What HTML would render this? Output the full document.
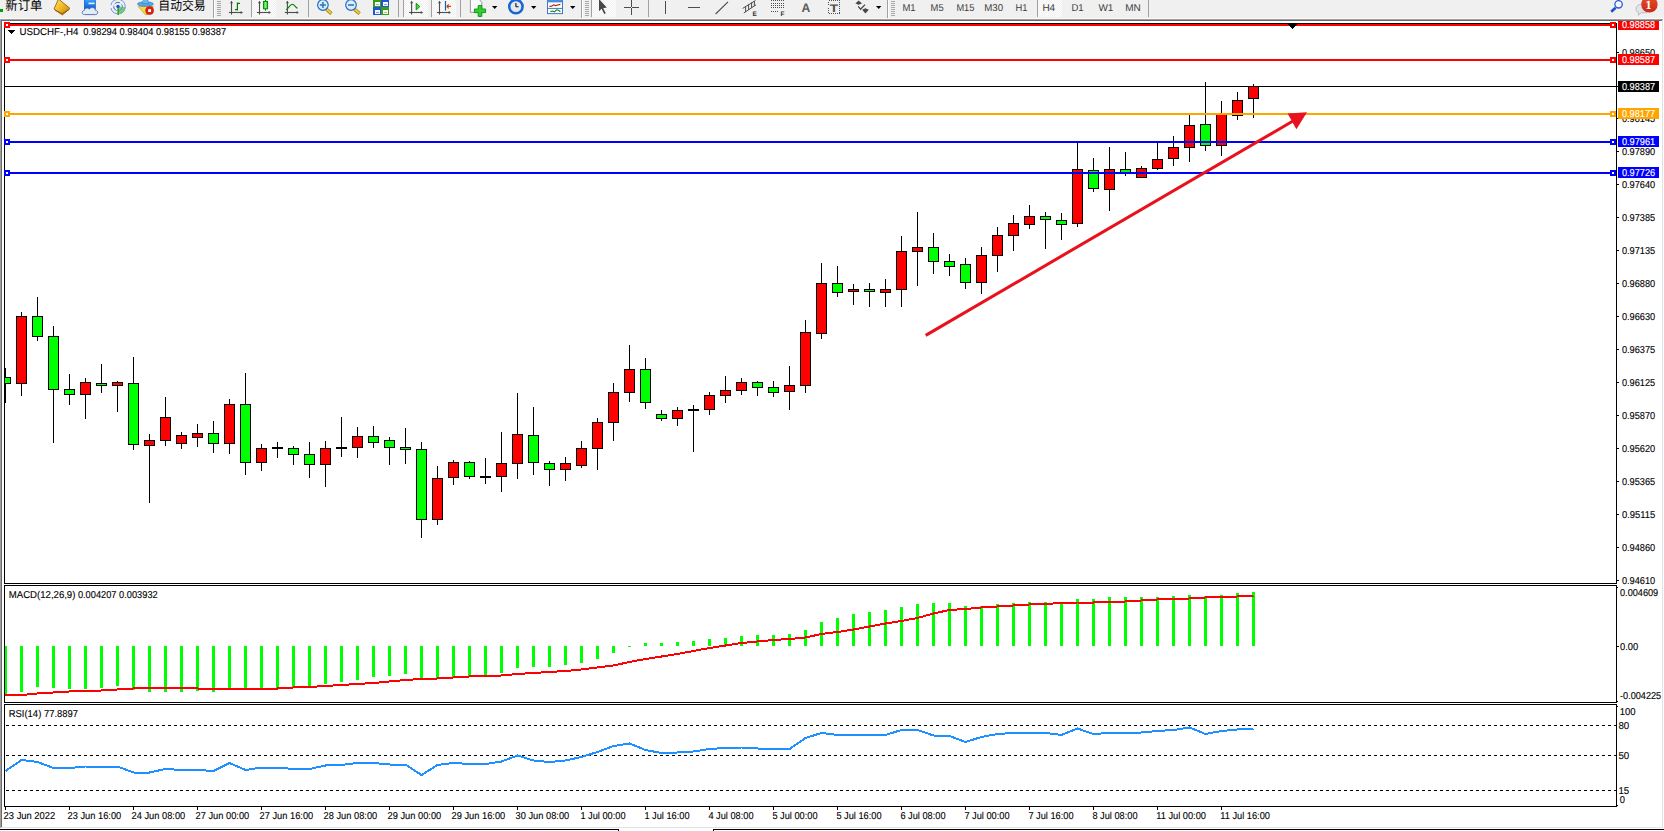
<!DOCTYPE html>
<html lang="zh"><head><meta charset="utf-8"><title>USDCHF-,H4</title>
<style>
html,body{margin:0;padding:0;background:#f0f0f0;}
body{width:1664px;height:831px;overflow:hidden;position:relative;font-family:"Liberation Sans", "Noto Sans CJK SC", sans-serif;}
svg{position:absolute;left:0;top:0;display:block;}
text{font-family:"Liberation Sans", "Noto Sans CJK SC", sans-serif;text-rendering:geometricPrecision;}
.t{font-size:10px;fill:#000;stroke:#000;stroke-width:0.12px;}
.w{font-size:10px;fill:#fff;stroke:#fff;stroke-width:0.12px;}
.tf{font-size:10px;fill:#3c3c3c;}
.cn{font-size:13px;fill:#000;}
</style></head><body>
<svg width="1664" height="831" viewBox="0 0 1664 831">
<g shape-rendering="crispEdges">
<rect x="0" y="0" width="1664" height="831" fill="#f0f0f0"/>
<rect x="0" y="18" width="1664" height="1" fill="#fbfbfb"/>
<rect x="0" y="19" width="1663" height="1" fill="#a0a0a0"/>
<rect x="1" y="20" width="1662" height="1" fill="#696969"/>
<rect x="2" y="21" width="1660" height="806" fill="#ffffff"/>
<rect x="0" y="19" width="1" height="809" fill="#a0a0a0"/>
<rect x="1" y="20" width="1" height="807" fill="#696969"/>
<rect x="1662" y="20" width="1" height="808" fill="#e3e3e3"/>
<rect x="1663" y="19" width="1" height="810" fill="#ffffff"/>
<rect x="1" y="827" width="1662" height="1" fill="#e3e3e3"/>
<rect x="0" y="828" width="1664" height="1" fill="#ffffff"/>
<rect x="0" y="829" width="619" height="1" fill="#000"/>
<rect x="713" y="829" width="951" height="1" fill="#000"/>
<rect x="618" y="829" width="1" height="2" fill="#000"/>
<rect x="713" y="829" width="1" height="2" fill="#000"/>
<rect x="0" y="830" width="618" height="1" fill="#fff"/>
<rect x="714" y="830" width="950" height="1" fill="#fff"/>
<rect x="619" y="829" width="94" height="2" fill="#fff"/>
<rect x="4" y="23" width="1" height="561" fill="#000"/>
<rect x="4" y="23" width="1613" height="1" fill="#000"/>
<rect x="4" y="583" width="1613" height="1" fill="#000"/>
<rect x="1616" y="23" width="1" height="561" fill="#000"/>
<rect x="4" y="585" width="1" height="118" fill="#000"/>
<rect x="4" y="585" width="1613" height="1" fill="#000"/>
<rect x="4" y="702" width="1613" height="1" fill="#000"/>
<rect x="1616" y="585" width="1" height="118" fill="#000"/>
<rect x="4" y="704" width="1" height="103" fill="#000"/>
<rect x="4" y="704" width="1613" height="1" fill="#000"/>
<rect x="4" y="806" width="1613" height="1" fill="#000"/>
<rect x="1616" y="704" width="1" height="103" fill="#000"/>
<rect x="1617" y="52" width="2" height="1" fill="#000"/>
<rect x="1617" y="118" width="2" height="1" fill="#000"/>
<rect x="1617" y="151" width="2" height="1" fill="#000"/>
<rect x="1617" y="184" width="2" height="1" fill="#000"/>
<rect x="1617" y="217" width="2" height="1" fill="#000"/>
<rect x="1617" y="250" width="2" height="1" fill="#000"/>
<rect x="1617" y="283" width="2" height="1" fill="#000"/>
<rect x="1617" y="316" width="2" height="1" fill="#000"/>
<rect x="1617" y="349" width="2" height="1" fill="#000"/>
<rect x="1617" y="382" width="2" height="1" fill="#000"/>
<rect x="1617" y="415" width="2" height="1" fill="#000"/>
<rect x="1617" y="448" width="2" height="1" fill="#000"/>
<rect x="1617" y="481" width="2" height="1" fill="#000"/>
<rect x="1617" y="514" width="2" height="1" fill="#000"/>
<rect x="1617" y="547" width="2" height="1" fill="#000"/>
<rect x="1617" y="580" width="2" height="1" fill="#000"/>
<rect x="1617" y="587" width="1" height="1" fill="#000"/>
<rect x="1617" y="646" width="2" height="1" fill="#000"/>
<rect x="1617" y="701" width="1" height="1" fill="#000"/>
<rect x="1617" y="706" width="1" height="1" fill="#000"/>
<rect x="1617" y="805" width="1" height="1" fill="#000"/>
<rect x="5" y="807" width="1" height="3" fill="#000"/>
<rect x="69" y="807" width="1" height="3" fill="#000"/>
<rect x="133" y="807" width="1" height="3" fill="#000"/>
<rect x="197" y="807" width="1" height="3" fill="#000"/>
<rect x="261" y="807" width="1" height="3" fill="#000"/>
<rect x="325" y="807" width="1" height="3" fill="#000"/>
<rect x="389" y="807" width="1" height="3" fill="#000"/>
<rect x="453" y="807" width="1" height="3" fill="#000"/>
<rect x="517" y="807" width="1" height="3" fill="#000"/>
<rect x="581" y="807" width="1" height="3" fill="#000"/>
<rect x="645" y="807" width="1" height="3" fill="#000"/>
<rect x="709" y="807" width="1" height="3" fill="#000"/>
<rect x="773" y="807" width="1" height="3" fill="#000"/>
<rect x="837" y="807" width="1" height="3" fill="#000"/>
<rect x="901" y="807" width="1" height="3" fill="#000"/>
<rect x="965" y="807" width="1" height="3" fill="#000"/>
<rect x="1029" y="807" width="1" height="3" fill="#000"/>
<rect x="1093" y="807" width="1" height="3" fill="#000"/>
<rect x="1157" y="807" width="1" height="3" fill="#000"/>
<rect x="1221" y="807" width="1" height="3" fill="#000"/>
</g>
<text transform="translate(1621.9,56) scale(1,1)" class="t" textLength="33.3" lengthAdjust="spacingAndGlyphs">0.98650</text>
<text transform="translate(1621.9,122) scale(1,1)" class="t" textLength="33.3" lengthAdjust="spacingAndGlyphs">0.98145</text>
<text transform="translate(1621.9,155) scale(1,1)" class="t" textLength="33.3" lengthAdjust="spacingAndGlyphs">0.97890</text>
<text transform="translate(1621.9,188) scale(1,1)" class="t" textLength="33.3" lengthAdjust="spacingAndGlyphs">0.97640</text>
<text transform="translate(1621.9,221) scale(1,1)" class="t" textLength="33.3" lengthAdjust="spacingAndGlyphs">0.97385</text>
<text transform="translate(1621.9,254) scale(1,1)" class="t" textLength="33.3" lengthAdjust="spacingAndGlyphs">0.97135</text>
<text transform="translate(1621.9,287) scale(1,1)" class="t" textLength="33.3" lengthAdjust="spacingAndGlyphs">0.96880</text>
<text transform="translate(1621.9,320) scale(1,1)" class="t" textLength="33.3" lengthAdjust="spacingAndGlyphs">0.96630</text>
<text transform="translate(1621.9,353) scale(1,1)" class="t" textLength="33.3" lengthAdjust="spacingAndGlyphs">0.96375</text>
<text transform="translate(1621.9,386) scale(1,1)" class="t" textLength="33.3" lengthAdjust="spacingAndGlyphs">0.96125</text>
<text transform="translate(1621.9,419) scale(1,1)" class="t" textLength="33.3" lengthAdjust="spacingAndGlyphs">0.95870</text>
<text transform="translate(1621.9,452) scale(1,1)" class="t" textLength="33.3" lengthAdjust="spacingAndGlyphs">0.95620</text>
<text transform="translate(1621.9,485) scale(1,1)" class="t" textLength="33.3" lengthAdjust="spacingAndGlyphs">0.95365</text>
<text transform="translate(1621.9,518) scale(1,1)" class="t" textLength="33.3" lengthAdjust="spacingAndGlyphs">0.95115</text>
<text transform="translate(1621.9,551) scale(1,1)" class="t" textLength="33.3" lengthAdjust="spacingAndGlyphs">0.94860</text>
<text transform="translate(1621.9,584) scale(1,1)" class="t" textLength="33.3" lengthAdjust="spacingAndGlyphs">0.94610</text>
<text transform="translate(1620,596) scale(1,1)" class="t" textLength="38.2" lengthAdjust="spacingAndGlyphs">0.004609</text>
<text transform="translate(1620,650) scale(1,1)" class="t" textLength="18.2" lengthAdjust="spacingAndGlyphs">0.00</text>
<text transform="translate(1620,699) scale(1,1)" class="t" textLength="41.2" lengthAdjust="spacingAndGlyphs">-0.004225</text>
<text transform="translate(1619.7,715) scale(1,1)" class="t" textLength="15.8" lengthAdjust="spacingAndGlyphs">100</text>
<text transform="translate(1618.4,729) scale(1,1)" class="t" textLength="10.8" lengthAdjust="spacingAndGlyphs">80</text>
<text transform="translate(1618.4,759) scale(1,1)" class="t" textLength="10.8" lengthAdjust="spacingAndGlyphs">50</text>
<text transform="translate(1618.4,794) scale(1,1)" class="t" textLength="10.8" lengthAdjust="spacingAndGlyphs">15</text>
<text transform="translate(1619.8,803) scale(1,1)" class="t" textLength="5.2" lengthAdjust="spacingAndGlyphs">0</text>
<text transform="translate(3.6,819) scale(1,1)" class="t" textLength="51.6" lengthAdjust="spacingAndGlyphs">23 Jun 2022</text>
<text transform="translate(67.6,819) scale(1,1)" class="t" textLength="53.6" lengthAdjust="spacingAndGlyphs">23 Jun 16:00</text>
<text transform="translate(131.6,819) scale(1,1)" class="t" textLength="53.6" lengthAdjust="spacingAndGlyphs">24 Jun 08:00</text>
<text transform="translate(195.6,819) scale(1,1)" class="t" textLength="53.6" lengthAdjust="spacingAndGlyphs">27 Jun 00:00</text>
<text transform="translate(259.6,819) scale(1,1)" class="t" textLength="53.6" lengthAdjust="spacingAndGlyphs">27 Jun 16:00</text>
<text transform="translate(323.6,819) scale(1,1)" class="t" textLength="53.6" lengthAdjust="spacingAndGlyphs">28 Jun 08:00</text>
<text transform="translate(387.6,819) scale(1,1)" class="t" textLength="53.6" lengthAdjust="spacingAndGlyphs">29 Jun 00:00</text>
<text transform="translate(451.6,819) scale(1,1)" class="t" textLength="53.6" lengthAdjust="spacingAndGlyphs">29 Jun 16:00</text>
<text transform="translate(515.6,819) scale(1,1)" class="t" textLength="53.6" lengthAdjust="spacingAndGlyphs">30 Jun 08:00</text>
<text transform="translate(580.4,819) scale(1,1)" class="t" textLength="45.2" lengthAdjust="spacingAndGlyphs">1 Jul 00:00</text>
<text transform="translate(644.4,819) scale(1,1)" class="t" textLength="45.2" lengthAdjust="spacingAndGlyphs">1 Jul 16:00</text>
<text transform="translate(708.4,819) scale(1,1)" class="t" textLength="45.2" lengthAdjust="spacingAndGlyphs">4 Jul 08:00</text>
<text transform="translate(772.4,819) scale(1,1)" class="t" textLength="45.2" lengthAdjust="spacingAndGlyphs">5 Jul 00:00</text>
<text transform="translate(836.4,819) scale(1,1)" class="t" textLength="45.2" lengthAdjust="spacingAndGlyphs">5 Jul 16:00</text>
<text transform="translate(900.4,819) scale(1,1)" class="t" textLength="45.2" lengthAdjust="spacingAndGlyphs">6 Jul 08:00</text>
<text transform="translate(964.4,819) scale(1,1)" class="t" textLength="45.2" lengthAdjust="spacingAndGlyphs">7 Jul 00:00</text>
<text transform="translate(1028.4,819) scale(1,1)" class="t" textLength="45.2" lengthAdjust="spacingAndGlyphs">7 Jul 16:00</text>
<text transform="translate(1092.4,819) scale(1,1)" class="t" textLength="45.2" lengthAdjust="spacingAndGlyphs">8 Jul 08:00</text>
<text transform="translate(1156.2,819) scale(1,1)" class="t" textLength="49.8" lengthAdjust="spacingAndGlyphs">11 Jul 00:00</text>
<text transform="translate(1220.2,819) scale(1,1)" class="t" textLength="49.8" lengthAdjust="spacingAndGlyphs">11 Jul 16:00</text>
<g shape-rendering="crispEdges">
<clipPath id="cm"><rect x="5" y="24" width="1611" height="559"/></clipPath>
<g clip-path="url(#cm)">
<rect x="5" y="368" width="1" height="35" fill="#000"/>
<rect x="0" y="377" width="11" height="7" fill="#000"/>
<rect x="1" y="378" width="9" height="5" fill="#00ff00"/>
<rect x="21" y="312" width="1" height="84" fill="#000"/>
<rect x="16" y="316" width="11" height="68" fill="#000"/>
<rect x="17" y="317" width="9" height="66" fill="#ff0000"/>
<rect x="37" y="297" width="1" height="44" fill="#000"/>
<rect x="32" y="316" width="11" height="21" fill="#000"/>
<rect x="33" y="317" width="9" height="19" fill="#00ff00"/>
<rect x="53" y="326" width="1" height="117" fill="#000"/>
<rect x="48" y="336" width="11" height="54" fill="#000"/>
<rect x="49" y="337" width="9" height="52" fill="#00ff00"/>
<rect x="69" y="374" width="1" height="31" fill="#000"/>
<rect x="64" y="389" width="11" height="6" fill="#000"/>
<rect x="65" y="390" width="9" height="4" fill="#00ff00"/>
<rect x="85" y="378" width="1" height="41" fill="#000"/>
<rect x="80" y="382" width="11" height="13" fill="#000"/>
<rect x="81" y="383" width="9" height="11" fill="#ff0000"/>
<rect x="101" y="364" width="1" height="29" fill="#000"/>
<rect x="96" y="383" width="11" height="3" fill="#000"/>
<rect x="97" y="384" width="9" height="1" fill="#00ff00"/>
<rect x="117" y="381" width="1" height="31" fill="#000"/>
<rect x="112" y="382" width="11" height="4" fill="#000"/>
<rect x="113" y="383" width="9" height="2" fill="#ff0000"/>
<rect x="133" y="357" width="1" height="93" fill="#000"/>
<rect x="128" y="383" width="11" height="62" fill="#000"/>
<rect x="129" y="384" width="9" height="60" fill="#00ff00"/>
<rect x="149" y="434" width="1" height="69" fill="#000"/>
<rect x="144" y="440" width="11" height="6" fill="#000"/>
<rect x="145" y="441" width="9" height="4" fill="#ff0000"/>
<rect x="165" y="397" width="1" height="49" fill="#000"/>
<rect x="160" y="417" width="11" height="24" fill="#000"/>
<rect x="161" y="418" width="9" height="22" fill="#ff0000"/>
<rect x="181" y="432" width="1" height="17" fill="#000"/>
<rect x="176" y="435" width="11" height="9" fill="#000"/>
<rect x="177" y="436" width="9" height="7" fill="#ff0000"/>
<rect x="197" y="424" width="1" height="23" fill="#000"/>
<rect x="192" y="433" width="11" height="5" fill="#000"/>
<rect x="193" y="434" width="9" height="3" fill="#ff0000"/>
<rect x="213" y="421" width="1" height="32" fill="#000"/>
<rect x="208" y="433" width="11" height="11" fill="#000"/>
<rect x="209" y="434" width="9" height="9" fill="#00ff00"/>
<rect x="229" y="399" width="1" height="55" fill="#000"/>
<rect x="224" y="404" width="11" height="40" fill="#000"/>
<rect x="225" y="405" width="9" height="38" fill="#ff0000"/>
<rect x="245" y="373" width="1" height="102" fill="#000"/>
<rect x="240" y="404" width="11" height="59" fill="#000"/>
<rect x="241" y="405" width="9" height="57" fill="#00ff00"/>
<rect x="261" y="444" width="1" height="27" fill="#000"/>
<rect x="256" y="448" width="11" height="15" fill="#000"/>
<rect x="257" y="449" width="9" height="13" fill="#ff0000"/>
<rect x="277" y="442" width="1" height="16" fill="#000"/>
<rect x="272" y="447" width="11" height="2" fill="#000"/>
<rect x="293" y="446" width="1" height="19" fill="#000"/>
<rect x="288" y="448" width="11" height="7" fill="#000"/>
<rect x="289" y="449" width="9" height="5" fill="#00ff00"/>
<rect x="309" y="442" width="1" height="36" fill="#000"/>
<rect x="304" y="454" width="11" height="11" fill="#000"/>
<rect x="305" y="455" width="9" height="9" fill="#00ff00"/>
<rect x="325" y="441" width="1" height="46" fill="#000"/>
<rect x="320" y="448" width="11" height="17" fill="#000"/>
<rect x="321" y="449" width="9" height="15" fill="#ff0000"/>
<rect x="341" y="417" width="1" height="40" fill="#000"/>
<rect x="336" y="447" width="11" height="2" fill="#000"/>
<rect x="357" y="427" width="1" height="31" fill="#000"/>
<rect x="352" y="436" width="11" height="12" fill="#000"/>
<rect x="353" y="437" width="9" height="10" fill="#ff0000"/>
<rect x="373" y="426" width="1" height="22" fill="#000"/>
<rect x="368" y="436" width="11" height="7" fill="#000"/>
<rect x="369" y="437" width="9" height="5" fill="#00ff00"/>
<rect x="389" y="437" width="1" height="28" fill="#000"/>
<rect x="384" y="440" width="11" height="8" fill="#000"/>
<rect x="385" y="441" width="9" height="6" fill="#00ff00"/>
<rect x="405" y="428" width="1" height="36" fill="#000"/>
<rect x="400" y="447" width="11" height="3" fill="#000"/>
<rect x="401" y="448" width="9" height="1" fill="#00ff00"/>
<rect x="421" y="442" width="1" height="96" fill="#000"/>
<rect x="416" y="449" width="11" height="71" fill="#000"/>
<rect x="417" y="450" width="9" height="69" fill="#00ff00"/>
<rect x="437" y="466" width="1" height="59" fill="#000"/>
<rect x="432" y="478" width="11" height="42" fill="#000"/>
<rect x="433" y="479" width="9" height="40" fill="#ff0000"/>
<rect x="453" y="460" width="1" height="25" fill="#000"/>
<rect x="448" y="462" width="11" height="16" fill="#000"/>
<rect x="449" y="463" width="9" height="14" fill="#ff0000"/>
<rect x="469" y="461" width="1" height="18" fill="#000"/>
<rect x="464" y="462" width="11" height="15" fill="#000"/>
<rect x="465" y="463" width="9" height="13" fill="#00ff00"/>
<rect x="485" y="458" width="1" height="26" fill="#000"/>
<rect x="480" y="476" width="11" height="2" fill="#000"/>
<rect x="501" y="432" width="1" height="60" fill="#000"/>
<rect x="496" y="463" width="11" height="14" fill="#000"/>
<rect x="497" y="464" width="9" height="12" fill="#ff0000"/>
<rect x="517" y="393" width="1" height="86" fill="#000"/>
<rect x="512" y="434" width="11" height="30" fill="#000"/>
<rect x="513" y="435" width="9" height="28" fill="#ff0000"/>
<rect x="533" y="407" width="1" height="68" fill="#000"/>
<rect x="528" y="435" width="11" height="28" fill="#000"/>
<rect x="529" y="436" width="9" height="26" fill="#00ff00"/>
<rect x="549" y="461" width="1" height="25" fill="#000"/>
<rect x="544" y="463" width="11" height="7" fill="#000"/>
<rect x="545" y="464" width="9" height="5" fill="#00ff00"/>
<rect x="565" y="457" width="1" height="24" fill="#000"/>
<rect x="560" y="463" width="11" height="7" fill="#000"/>
<rect x="561" y="464" width="9" height="5" fill="#ff0000"/>
<rect x="581" y="441" width="1" height="27" fill="#000"/>
<rect x="576" y="448" width="11" height="18" fill="#000"/>
<rect x="577" y="449" width="9" height="16" fill="#ff0000"/>
<rect x="597" y="418" width="1" height="52" fill="#000"/>
<rect x="592" y="422" width="11" height="27" fill="#000"/>
<rect x="593" y="423" width="9" height="25" fill="#ff0000"/>
<rect x="613" y="383" width="1" height="58" fill="#000"/>
<rect x="608" y="392" width="11" height="31" fill="#000"/>
<rect x="609" y="393" width="9" height="29" fill="#ff0000"/>
<rect x="629" y="345" width="1" height="57" fill="#000"/>
<rect x="624" y="369" width="11" height="24" fill="#000"/>
<rect x="625" y="370" width="9" height="22" fill="#ff0000"/>
<rect x="645" y="358" width="1" height="51" fill="#000"/>
<rect x="640" y="369" width="11" height="34" fill="#000"/>
<rect x="641" y="370" width="9" height="32" fill="#00ff00"/>
<rect x="661" y="410" width="1" height="11" fill="#000"/>
<rect x="656" y="414" width="11" height="5" fill="#000"/>
<rect x="657" y="415" width="9" height="3" fill="#00ff00"/>
<rect x="677" y="407" width="1" height="19" fill="#000"/>
<rect x="672" y="410" width="11" height="9" fill="#000"/>
<rect x="673" y="411" width="9" height="7" fill="#ff0000"/>
<rect x="693" y="405" width="1" height="47" fill="#000"/>
<rect x="688" y="409" width="11" height="2" fill="#000"/>
<rect x="709" y="392" width="1" height="23" fill="#000"/>
<rect x="704" y="395" width="11" height="15" fill="#000"/>
<rect x="705" y="396" width="9" height="13" fill="#ff0000"/>
<rect x="725" y="376" width="1" height="27" fill="#000"/>
<rect x="720" y="390" width="11" height="6" fill="#000"/>
<rect x="721" y="391" width="9" height="4" fill="#ff0000"/>
<rect x="741" y="378" width="1" height="17" fill="#000"/>
<rect x="736" y="382" width="11" height="9" fill="#000"/>
<rect x="737" y="383" width="9" height="7" fill="#ff0000"/>
<rect x="757" y="381" width="1" height="15" fill="#000"/>
<rect x="752" y="382" width="11" height="6" fill="#000"/>
<rect x="753" y="383" width="9" height="4" fill="#00ff00"/>
<rect x="773" y="381" width="1" height="16" fill="#000"/>
<rect x="768" y="387" width="11" height="6" fill="#000"/>
<rect x="769" y="388" width="9" height="4" fill="#00ff00"/>
<rect x="789" y="366" width="1" height="44" fill="#000"/>
<rect x="784" y="385" width="11" height="7" fill="#000"/>
<rect x="785" y="386" width="9" height="5" fill="#ff0000"/>
<rect x="805" y="320" width="1" height="73" fill="#000"/>
<rect x="800" y="332" width="11" height="54" fill="#000"/>
<rect x="801" y="333" width="9" height="52" fill="#ff0000"/>
<rect x="821" y="263" width="1" height="76" fill="#000"/>
<rect x="816" y="283" width="11" height="51" fill="#000"/>
<rect x="817" y="284" width="9" height="49" fill="#ff0000"/>
<rect x="837" y="266" width="1" height="31" fill="#000"/>
<rect x="832" y="283" width="11" height="10" fill="#000"/>
<rect x="833" y="284" width="9" height="8" fill="#00ff00"/>
<rect x="853" y="284" width="1" height="21" fill="#000"/>
<rect x="848" y="289" width="11" height="3" fill="#000"/>
<rect x="849" y="290" width="9" height="1" fill="#ff0000"/>
<rect x="869" y="283" width="1" height="24" fill="#000"/>
<rect x="864" y="289" width="11" height="3" fill="#000"/>
<rect x="865" y="290" width="9" height="1" fill="#00ff00"/>
<rect x="885" y="279" width="1" height="28" fill="#000"/>
<rect x="880" y="289" width="11" height="4" fill="#000"/>
<rect x="881" y="290" width="9" height="2" fill="#ff0000"/>
<rect x="901" y="236" width="1" height="71" fill="#000"/>
<rect x="896" y="251" width="11" height="39" fill="#000"/>
<rect x="897" y="252" width="9" height="37" fill="#ff0000"/>
<rect x="917" y="212" width="1" height="74" fill="#000"/>
<rect x="912" y="247" width="11" height="5" fill="#000"/>
<rect x="913" y="248" width="9" height="3" fill="#ff0000"/>
<rect x="933" y="233" width="1" height="41" fill="#000"/>
<rect x="928" y="247" width="11" height="15" fill="#000"/>
<rect x="929" y="248" width="9" height="13" fill="#00ff00"/>
<rect x="949" y="254" width="1" height="22" fill="#000"/>
<rect x="944" y="261" width="11" height="6" fill="#000"/>
<rect x="945" y="262" width="9" height="4" fill="#00ff00"/>
<rect x="965" y="258" width="1" height="31" fill="#000"/>
<rect x="960" y="264" width="11" height="19" fill="#000"/>
<rect x="961" y="265" width="9" height="17" fill="#00ff00"/>
<rect x="981" y="247" width="1" height="47" fill="#000"/>
<rect x="976" y="255" width="11" height="28" fill="#000"/>
<rect x="977" y="256" width="9" height="26" fill="#ff0000"/>
<rect x="997" y="227" width="1" height="45" fill="#000"/>
<rect x="992" y="235" width="11" height="21" fill="#000"/>
<rect x="993" y="236" width="9" height="19" fill="#ff0000"/>
<rect x="1013" y="215" width="1" height="36" fill="#000"/>
<rect x="1008" y="223" width="11" height="13" fill="#000"/>
<rect x="1009" y="224" width="9" height="11" fill="#ff0000"/>
<rect x="1029" y="205" width="1" height="24" fill="#000"/>
<rect x="1024" y="216" width="11" height="9" fill="#000"/>
<rect x="1025" y="217" width="9" height="7" fill="#ff0000"/>
<rect x="1045" y="212" width="1" height="37" fill="#000"/>
<rect x="1040" y="216" width="11" height="4" fill="#000"/>
<rect x="1041" y="217" width="9" height="2" fill="#00ff00"/>
<rect x="1061" y="213" width="1" height="27" fill="#000"/>
<rect x="1056" y="220" width="11" height="5" fill="#000"/>
<rect x="1057" y="221" width="9" height="3" fill="#00ff00"/>
<rect x="1077" y="143" width="1" height="84" fill="#000"/>
<rect x="1072" y="169" width="11" height="55" fill="#000"/>
<rect x="1073" y="170" width="9" height="53" fill="#ff0000"/>
<rect x="1093" y="158" width="1" height="34" fill="#000"/>
<rect x="1088" y="170" width="11" height="19" fill="#000"/>
<rect x="1089" y="171" width="9" height="17" fill="#00ff00"/>
<rect x="1109" y="147" width="1" height="64" fill="#000"/>
<rect x="1104" y="169" width="11" height="21" fill="#000"/>
<rect x="1105" y="170" width="9" height="19" fill="#ff0000"/>
<rect x="1125" y="152" width="1" height="24" fill="#000"/>
<rect x="1120" y="169" width="11" height="4" fill="#000"/>
<rect x="1121" y="170" width="9" height="2" fill="#00ff00"/>
<rect x="1141" y="166" width="1" height="12" fill="#000"/>
<rect x="1136" y="168" width="11" height="10" fill="#000"/>
<rect x="1137" y="169" width="9" height="8" fill="#ff0000"/>
<rect x="1157" y="143" width="1" height="27" fill="#000"/>
<rect x="1152" y="159" width="11" height="10" fill="#000"/>
<rect x="1153" y="160" width="9" height="8" fill="#ff0000"/>
<rect x="1173" y="136" width="1" height="30" fill="#000"/>
<rect x="1168" y="147" width="11" height="12" fill="#000"/>
<rect x="1169" y="148" width="9" height="10" fill="#ff0000"/>
<rect x="1189" y="115" width="1" height="47" fill="#000"/>
<rect x="1184" y="125" width="11" height="23" fill="#000"/>
<rect x="1185" y="126" width="9" height="21" fill="#ff0000"/>
<rect x="1205" y="82" width="1" height="69" fill="#000"/>
<rect x="1200" y="124" width="11" height="22" fill="#000"/>
<rect x="1201" y="125" width="9" height="20" fill="#00ff00"/>
<rect x="1221" y="101" width="1" height="55" fill="#000"/>
<rect x="1216" y="114" width="11" height="32" fill="#000"/>
<rect x="1217" y="115" width="9" height="30" fill="#ff0000"/>
<rect x="1237" y="92" width="1" height="28" fill="#000"/>
<rect x="1232" y="100" width="11" height="16" fill="#000"/>
<rect x="1233" y="101" width="9" height="14" fill="#ff0000"/>
<rect x="1253" y="84" width="1" height="34" fill="#000"/>
<rect x="1248" y="86" width="11" height="13" fill="#000"/>
<rect x="1249" y="87" width="9" height="11" fill="#ff0000"/>
</g>
<clipPath id="cd"><rect x="5" y="586" width="1611" height="116"/></clipPath>
<g clip-path="url(#cd)">
<rect x="4" y="646" width="3" height="50" fill="#00ff00"/>
<rect x="20" y="646" width="3" height="46" fill="#00ff00"/>
<rect x="36" y="646" width="3" height="41" fill="#00ff00"/>
<rect x="52" y="646" width="3" height="42" fill="#00ff00"/>
<rect x="68" y="646" width="3" height="43" fill="#00ff00"/>
<rect x="84" y="646" width="3" height="43" fill="#00ff00"/>
<rect x="100" y="646" width="3" height="42" fill="#00ff00"/>
<rect x="116" y="646" width="3" height="40" fill="#00ff00"/>
<rect x="132" y="646" width="3" height="44" fill="#00ff00"/>
<rect x="148" y="646" width="3" height="46" fill="#00ff00"/>
<rect x="164" y="646" width="3" height="46" fill="#00ff00"/>
<rect x="180" y="646" width="3" height="46" fill="#00ff00"/>
<rect x="196" y="646" width="3" height="45" fill="#00ff00"/>
<rect x="212" y="646" width="3" height="46" fill="#00ff00"/>
<rect x="228" y="646" width="3" height="42" fill="#00ff00"/>
<rect x="244" y="646" width="3" height="43" fill="#00ff00"/>
<rect x="260" y="646" width="3" height="43" fill="#00ff00"/>
<rect x="276" y="646" width="3" height="42" fill="#00ff00"/>
<rect x="292" y="646" width="3" height="41" fill="#00ff00"/>
<rect x="308" y="646" width="3" height="41" fill="#00ff00"/>
<rect x="324" y="646" width="3" height="38" fill="#00ff00"/>
<rect x="340" y="646" width="3" height="36" fill="#00ff00"/>
<rect x="356" y="646" width="3" height="34" fill="#00ff00"/>
<rect x="372" y="646" width="3" height="31" fill="#00ff00"/>
<rect x="388" y="646" width="3" height="30" fill="#00ff00"/>
<rect x="404" y="646" width="3" height="28" fill="#00ff00"/>
<rect x="420" y="646" width="3" height="33" fill="#00ff00"/>
<rect x="436" y="646" width="3" height="32" fill="#00ff00"/>
<rect x="452" y="646" width="3" height="31" fill="#00ff00"/>
<rect x="468" y="646" width="3" height="31" fill="#00ff00"/>
<rect x="484" y="646" width="3" height="29" fill="#00ff00"/>
<rect x="500" y="646" width="3" height="27" fill="#00ff00"/>
<rect x="516" y="646" width="3" height="22" fill="#00ff00"/>
<rect x="532" y="646" width="3" height="21" fill="#00ff00"/>
<rect x="548" y="646" width="3" height="21" fill="#00ff00"/>
<rect x="564" y="646" width="3" height="19" fill="#00ff00"/>
<rect x="580" y="646" width="3" height="17" fill="#00ff00"/>
<rect x="596" y="646" width="3" height="13" fill="#00ff00"/>
<rect x="612" y="646" width="3" height="7" fill="#00ff00"/>
<rect x="628" y="646" width="3" height="1" fill="#00ff00"/>
<rect x="644" y="643" width="3" height="3" fill="#00ff00"/>
<rect x="660" y="643" width="3" height="3" fill="#00ff00"/>
<rect x="676" y="642" width="3" height="4" fill="#00ff00"/>
<rect x="692" y="641" width="3" height="5" fill="#00ff00"/>
<rect x="708" y="639" width="3" height="7" fill="#00ff00"/>
<rect x="724" y="638" width="3" height="8" fill="#00ff00"/>
<rect x="740" y="636" width="3" height="10" fill="#00ff00"/>
<rect x="756" y="635" width="3" height="11" fill="#00ff00"/>
<rect x="772" y="635" width="3" height="11" fill="#00ff00"/>
<rect x="788" y="634" width="3" height="12" fill="#00ff00"/>
<rect x="804" y="630" width="3" height="16" fill="#00ff00"/>
<rect x="820" y="622" width="3" height="24" fill="#00ff00"/>
<rect x="836" y="618" width="3" height="28" fill="#00ff00"/>
<rect x="852" y="614" width="3" height="32" fill="#00ff00"/>
<rect x="868" y="612" width="3" height="34" fill="#00ff00"/>
<rect x="884" y="610" width="3" height="36" fill="#00ff00"/>
<rect x="900" y="607" width="3" height="39" fill="#00ff00"/>
<rect x="916" y="604" width="3" height="42" fill="#00ff00"/>
<rect x="932" y="603" width="3" height="43" fill="#00ff00"/>
<rect x="948" y="603" width="3" height="43" fill="#00ff00"/>
<rect x="964" y="606" width="3" height="40" fill="#00ff00"/>
<rect x="980" y="606" width="3" height="40" fill="#00ff00"/>
<rect x="996" y="604" width="3" height="42" fill="#00ff00"/>
<rect x="1012" y="603" width="3" height="43" fill="#00ff00"/>
<rect x="1028" y="602" width="3" height="44" fill="#00ff00"/>
<rect x="1044" y="602" width="3" height="44" fill="#00ff00"/>
<rect x="1060" y="602" width="3" height="44" fill="#00ff00"/>
<rect x="1076" y="599" width="3" height="47" fill="#00ff00"/>
<rect x="1092" y="599" width="3" height="47" fill="#00ff00"/>
<rect x="1108" y="597" width="3" height="49" fill="#00ff00"/>
<rect x="1124" y="597" width="3" height="49" fill="#00ff00"/>
<rect x="1140" y="597" width="3" height="49" fill="#00ff00"/>
<rect x="1156" y="597" width="3" height="49" fill="#00ff00"/>
<rect x="1172" y="596" width="3" height="50" fill="#00ff00"/>
<rect x="1188" y="595" width="3" height="51" fill="#00ff00"/>
<rect x="1204" y="596" width="3" height="50" fill="#00ff00"/>
<rect x="1220" y="595" width="3" height="51" fill="#00ff00"/>
<rect x="1236" y="593" width="3" height="53" fill="#00ff00"/>
<rect x="1252" y="592" width="3" height="54" fill="#00ff00"/>
</g>
</g>
<polyline points="5.5,695.5 21.5,695 37.5,693.5 53.5,692.5 69.5,691.5 85.5,691 101.5,690.5 117.5,689.5 133.5,688.5 149.5,688 165.5,688 181.5,688 197.5,688.5 213.5,688.5 229.5,688.5 245.5,688.5 261.5,688.5 277.5,688.5 293.5,687.5 309.5,687 325.5,686 341.5,685 357.5,684 373.5,683 389.5,681.5 405.5,680 421.5,679 437.5,678.5 453.5,677.5 469.5,676.5 485.5,676 501.5,675.5 517.5,674 533.5,673 549.5,672 565.5,671 581.5,669.5 597.5,667.5 613.5,665.5 629.5,662 645.5,659 661.5,656.5 677.5,654 693.5,651 709.5,648 725.5,645.5 741.5,643 757.5,641.5 773.5,640 789.5,639 805.5,637.5 821.5,634 837.5,632 853.5,629.5 869.5,626.5 885.5,623.5 901.5,621 917.5,618 933.5,613.5 949.5,610 965.5,609 981.5,607.5 997.5,606.5 1013.5,605.5 1029.5,604.5 1045.5,604 1061.5,603 1077.5,602.5 1093.5,602.5 1109.5,602 1125.5,601.5 1141.5,600.5 1157.5,599.5 1173.5,599 1189.5,598.5 1205.5,597.5 1221.5,597 1237.5,596.5 1253.5,596" fill="none" stroke="#ff0000" stroke-width="2" stroke-linejoin="round" clip-path="url(#cd)" shape-rendering="crispEdges"/>
<g shape-rendering="crispEdges">
<line x1="6" y1="725.5" x2="1616" y2="725.5" stroke="#000" stroke-width="1" stroke-dasharray="3 3"/>
<line x1="6" y1="755.5" x2="1616" y2="755.5" stroke="#000" stroke-width="1" stroke-dasharray="3 3"/>
<line x1="6" y1="790.5" x2="1616" y2="790.5" stroke="#000" stroke-width="1" stroke-dasharray="3 3"/>
</g>
<polyline points="5.5,771 21.5,760 37.5,762 53.5,768 69.5,768 85.5,766.5 101.5,766.5 117.5,766.5 133.5,772.5 149.5,772.5 165.5,769 181.5,770 197.5,770 213.5,771 229.5,763 245.5,770 261.5,767.5 277.5,767.5 293.5,769 309.5,769 325.5,765.5 341.5,765 357.5,763 373.5,763 389.5,764.5 405.5,764.5 421.5,775 437.5,765 453.5,763 469.5,764 485.5,764 501.5,761.5 517.5,755.5 533.5,760.5 549.5,762 565.5,760.5 581.5,757 597.5,752 613.5,746 629.5,743.5 645.5,750 661.5,753 677.5,752.5 693.5,751.5 709.5,749 725.5,748 741.5,747.5 757.5,748.5 773.5,749 789.5,749 805.5,738 821.5,733 837.5,735 853.5,735 869.5,735 885.5,735 901.5,730 917.5,730 933.5,735.5 949.5,736 965.5,742 981.5,737 997.5,734 1013.5,733 1029.5,733 1045.5,733 1061.5,735 1077.5,728.5 1093.5,734 1109.5,733 1125.5,733 1141.5,732.5 1157.5,731 1173.5,730 1189.5,727.5 1205.5,734 1221.5,731 1237.5,729.5 1253.5,729" fill="none" stroke="#1e90ff" stroke-width="2" stroke-linejoin="round" shape-rendering="crispEdges"/>
<g shape-rendering="crispEdges">
<rect x="5" y="24" width="1611" height="2" fill="#ff0000"/>
<rect x="4" y="22" width="6" height="6" fill="#ff0000"/>
<rect x="6" y="24" width="2" height="2" fill="#fff"/>
<rect x="1610" y="22" width="6" height="6" fill="#ff0000"/>
<rect x="1612" y="24" width="2" height="2" fill="#fff"/>
<rect x="1618" y="21" width="41" height="9" fill="#ff0000"/>
<rect x="5" y="59" width="1611" height="2" fill="#ff0000"/>
<rect x="4" y="57" width="6" height="6" fill="#ff0000"/>
<rect x="6" y="59" width="2" height="2" fill="#fff"/>
<rect x="1610" y="57" width="6" height="6" fill="#ff0000"/>
<rect x="1612" y="59" width="2" height="2" fill="#fff"/>
<rect x="1618" y="54" width="41" height="11" fill="#ff0000"/>
<rect x="5" y="86" width="1613" height="1" fill="#000"/>
<rect x="1618" y="81" width="41" height="11" fill="#000"/>
<rect x="5" y="113" width="1611" height="2" fill="#ffa500"/>
<rect x="4" y="111" width="6" height="6" fill="#ffa500"/>
<rect x="6" y="113" width="2" height="2" fill="#fff"/>
<rect x="1610" y="111" width="6" height="6" fill="#ffa500"/>
<rect x="1612" y="113" width="2" height="2" fill="#fff"/>
<rect x="1618" y="108" width="41" height="11" fill="#ffa500"/>
<rect x="5" y="141" width="1611" height="2" fill="#0000ff"/>
<rect x="4" y="139" width="6" height="6" fill="#0000ff"/>
<rect x="6" y="141" width="2" height="2" fill="#fff"/>
<rect x="1610" y="139" width="6" height="6" fill="#0000ff"/>
<rect x="1612" y="141" width="2" height="2" fill="#fff"/>
<rect x="1618" y="136" width="41" height="11" fill="#0000ff"/>
<rect x="5" y="172" width="1611" height="2" fill="#0000ff"/>
<rect x="4" y="170" width="6" height="6" fill="#0000ff"/>
<rect x="6" y="172" width="2" height="2" fill="#fff"/>
<rect x="1610" y="170" width="6" height="6" fill="#0000ff"/>
<rect x="1612" y="172" width="2" height="2" fill="#fff"/>
<rect x="1618" y="167" width="41" height="11" fill="#0000ff"/>
<rect x="1288" y="23" width="10" height="1" fill="#000"/>
<rect x="1288" y="24" width="9" height="1" fill="#000"/>
<rect x="1289" y="25" width="7" height="1" fill="#000"/>
<rect x="1290" y="26" width="5" height="1" fill="#000"/>
<rect x="1291" y="27" width="3" height="1" fill="#000"/>
<rect x="1292" y="28" width="1" height="1" fill="#000"/>
<rect x="8" y="30" width="7" height="1" fill="#000"/>
<rect x="9" y="31" width="5" height="1" fill="#000"/>
<rect x="10" y="32" width="3" height="1" fill="#000"/>
<rect x="11" y="33" width="1" height="1" fill="#000"/>
</g>
<line x1="925.7" y1="335.4" x2="1293" y2="121" stroke="#e8111d" stroke-width="3.05"/>
<polygon points="1307,112.3 1287.6,113.6 1296.4,129.3" fill="#e8111d"/>
<text transform="translate(1621.9,28) scale(1,1)" class="w" textLength="33.3" lengthAdjust="spacingAndGlyphs">0.98858</text>
<text transform="translate(1621.9,63) scale(1,1)" class="w" textLength="33.3" lengthAdjust="spacingAndGlyphs">0.98587</text>
<text transform="translate(1621.9,117) scale(1,1)" class="w" textLength="33.3" lengthAdjust="spacingAndGlyphs">0.98177</text>
<text transform="translate(1621.9,145) scale(1,1)" class="w" textLength="33.3" lengthAdjust="spacingAndGlyphs">0.97961</text>
<text transform="translate(1621.9,176) scale(1,1)" class="w" textLength="33.3" lengthAdjust="spacingAndGlyphs">0.97726</text>
<text transform="translate(1621.9,90) scale(1,1)" class="w" textLength="33.3" lengthAdjust="spacingAndGlyphs">0.98387</text>
<text transform="translate(19.6,35) scale(1,1)" class="t" textLength="58.8" lengthAdjust="spacingAndGlyphs">USDCHF-,H4</text>
<text transform="translate(83.2,35) scale(1,1)" class="t" textLength="142.9" lengthAdjust="spacingAndGlyphs">0.98294 0.98404 0.98155 0.98387</text>
<text transform="translate(8.8,598) scale(1,1)" class="t" textLength="66.6" lengthAdjust="spacingAndGlyphs">MACD(12,26,9)</text>
<text transform="translate(77.9,598) scale(1,1)" class="t" textLength="79.8" lengthAdjust="spacingAndGlyphs">0.004207 0.003932</text>
<text transform="translate(8.7,717) scale(1,1)" class="t" textLength="69.4" lengthAdjust="spacingAndGlyphs">RSI(14) 77.8897</text>
<defs>
<linearGradient id="gold" x1="0" y1="0" x2="1" y2="1"><stop offset="0" stop-color="#ffe680"/><stop offset="0.5" stop-color="#f0b820"/><stop offset="1" stop-color="#b87808"/></linearGradient>
<linearGradient id="blu" x1="0" y1="0" x2="0" y2="1"><stop offset="0" stop-color="#38a8ff"/><stop offset="1" stop-color="#0a5cd8"/></linearGradient>
<linearGradient id="redb" x1="0" y1="0" x2="0" y2="1"><stop offset="0" stop-color="#e8502c"/><stop offset="1" stop-color="#c82814"/></linearGradient>
<linearGradient id="grn" x1="0" y1="0" x2="1" y2="0"><stop offset="0" stop-color="#20c020"/><stop offset="0.5" stop-color="#70ff70"/><stop offset="1" stop-color="#20c020"/></linearGradient>
<pattern id="chk" width="2" height="2" patternUnits="userSpaceOnUse"><rect width="2" height="2" fill="#f0f0f0"/><rect width="1" height="1" fill="#fff"/><rect x="1" y="1" width="1" height="1" fill="#fff"/></pattern>
<clipPath id="tb"><rect x="0" y="0" width="1664" height="18"/></clipPath>
</defs>
<g clip-path="url(#tb)">
<g shape-rendering="crispEdges">
<rect x="252" y="0" width="24" height="17" fill="url(#chk)"/>
<rect x="404" y="0" width="24" height="17" fill="url(#chk)"/>
<rect x="432" y="0" width="24" height="17" fill="url(#chk)"/>
<rect x="592" y="0" width="24" height="17" fill="url(#chk)"/>
<rect x="1038" y="0" width="24" height="17" fill="url(#chk)"/>
<rect x="251" y="0" width="1" height="17" fill="#a0a0a0"/>
<rect x="308" y="0" width="1" height="17" fill="#a0a0a0"/>
<rect x="398" y="0" width="1" height="17" fill="#a0a0a0"/>
<rect x="403" y="0" width="1" height="17" fill="#a0a0a0"/>
<rect x="431" y="0" width="1" height="17" fill="#a0a0a0"/>
<rect x="460" y="0" width="1" height="17" fill="#a0a0a0"/>
<rect x="591" y="0" width="1" height="17" fill="#a0a0a0"/>
<rect x="648" y="0" width="1" height="17" fill="#a0a0a0"/>
<rect x="1037" y="0" width="1" height="17" fill="#a0a0a0"/>
<rect x="1148" y="0" width="1" height="17" fill="#a0a0a0"/>
<rect x="213" y="0" width="1" height="19" fill="#a0a0a0"/>
<rect x="214" y="0" width="1" height="19" fill="#ffffff"/>
<rect x="581" y="0" width="1" height="19" fill="#a0a0a0"/>
<rect x="582" y="0" width="1" height="19" fill="#ffffff"/>
<rect x="887" y="0" width="1" height="19" fill="#a0a0a0"/>
<rect x="888" y="0" width="1" height="19" fill="#ffffff"/>
<rect x="217" y="1" width="4" height="1" fill="#a8a8a8"/>
<rect x="217" y="3" width="4" height="1" fill="#a8a8a8"/>
<rect x="217" y="5" width="4" height="1" fill="#a8a8a8"/>
<rect x="217" y="7" width="4" height="1" fill="#a8a8a8"/>
<rect x="217" y="9" width="4" height="1" fill="#a8a8a8"/>
<rect x="217" y="11" width="4" height="1" fill="#a8a8a8"/>
<rect x="217" y="13" width="4" height="1" fill="#a8a8a8"/>
<rect x="217" y="15" width="4" height="1" fill="#a8a8a8"/>
<rect x="585" y="1" width="4" height="1" fill="#a8a8a8"/>
<rect x="585" y="3" width="4" height="1" fill="#a8a8a8"/>
<rect x="585" y="5" width="4" height="1" fill="#a8a8a8"/>
<rect x="585" y="7" width="4" height="1" fill="#a8a8a8"/>
<rect x="585" y="9" width="4" height="1" fill="#a8a8a8"/>
<rect x="585" y="11" width="4" height="1" fill="#a8a8a8"/>
<rect x="585" y="13" width="4" height="1" fill="#a8a8a8"/>
<rect x="585" y="15" width="4" height="1" fill="#a8a8a8"/>
<rect x="891" y="1" width="4" height="1" fill="#a8a8a8"/>
<rect x="891" y="3" width="4" height="1" fill="#a8a8a8"/>
<rect x="891" y="5" width="4" height="1" fill="#a8a8a8"/>
<rect x="891" y="7" width="4" height="1" fill="#a8a8a8"/>
<rect x="891" y="9" width="4" height="1" fill="#a8a8a8"/>
<rect x="891" y="11" width="4" height="1" fill="#a8a8a8"/>
<rect x="891" y="13" width="4" height="1" fill="#a8a8a8"/>
<rect x="891" y="15" width="4" height="1" fill="#a8a8a8"/>
<rect x="0" y="9" width="3" height="3" fill="#00a000"/>
</g>
<text x="5.3" y="10.3" class="cn" textLength="37.2" lengthAdjust="spacingAndGlyphs">新订单</text>
<text x="158.3" y="10.3" class="cn" textLength="47.4" lengthAdjust="spacingAndGlyphs">自动交易</text>
<polygon points="58.5,-1 70,8.4 62.3,15 54,9" fill="url(#gold)" stroke="#9a6408" stroke-width="0.9"/>
<path d="M55,10.3 L62.2,13.6 L69,9.6" fill="none" stroke="#7a4a04" stroke-width="0.8"/>
<rect x="84.3" y="-1" width="11" height="10" fill="url(#blu)" stroke="#0848b0" stroke-width="0.6"/>
<rect x="88.5" y="2.6" width="6" height="1.6" fill="#e8f4ff"/>
<path d="M84.5,14.6 C81.5,14.6 81.4,10.6 84.4,10.4 C84.6,7.8 88.2,7.4 89.2,9.2 C90.6,6.6 95.4,7.2 95.2,10.2 C98.4,10.2 98.6,14.6 95.4,14.6 Z" fill="#e4ecf8" stroke="#4868b0" stroke-width="0.9"/>
<g fill="none">
<circle cx="118" cy="6.6" r="7.2" stroke="#5a86dc" stroke-width="1" stroke-dasharray="9 3" opacity="0.85"/>
<circle cx="118" cy="6.6" r="4.3" stroke="#4070d8" stroke-width="1" stroke-dasharray="6 2"/>
</g>
<path d="M118,6.6 L125.4,7 A7.4,7.4 0 0 1 118,14.6 Z" fill="#58b868" opacity="0.75"/>
<rect x="117.4" y="7" width="1.4" height="8" fill="#18a018"/>
<circle cx="118" cy="6.4" r="1.7" fill="#1850d0"/>
<polygon points="138.2,6.4 153.4,6.4 148,14.6 145.2,14.6" fill="#f4d84c" stroke="#c89c10" stroke-width="0.7"/>
<ellipse cx="145.4" cy="4" rx="8" ry="2.3" fill="#58a8e8" stroke="#2c78c0" stroke-width="0.6"/>
<path d="M142.2,3.6 L143.6,-1 L147.6,-1 L148.8,3.6 Z" fill="#6cb4ec" stroke="#2c78c0" stroke-width="0.5"/>
<circle cx="149.6" cy="10.6" r="4" fill="#dc2410" stroke="#b01808" stroke-width="0.6"/>
<rect x="148.2" y="9.2" width="2.8" height="2.8" fill="#fff"/>
<g stroke="#4d4d4d" stroke-width="1.1" fill="#4d4d4d">
<line x1="231.5" y1="1.5" x2="231.5" y2="14.6"/>
<line x1="228.9" y1="12.5" x2="242.1" y2="12.5"/>
<polygon points="231.5,0.8 230,3.2 233,3.2" stroke="none"/>
<polygon points="242.9,12.5 240.7,11 240.7,14" stroke="none"/>
</g>
<path d="M237.4,2.4 V10.6 M237.4,3.3 H240 M235,9.6 H237.4" stroke="#008000" stroke-width="1.2" fill="none"/>
<g stroke="#4d4d4d" stroke-width="1.1" fill="#4d4d4d">
<line x1="259.5" y1="1.5" x2="259.5" y2="14.6"/>
<line x1="256.9" y1="12.5" x2="270.1" y2="12.5"/>
<polygon points="259.5,0.8 258,3.2 261,3.2" stroke="none"/>
<polygon points="270.9,12.5 268.7,11 268.7,14" stroke="none"/>
</g>
<line x1="265.5" y1="0" x2="265.5" y2="10.6" stroke="#008000" stroke-width="1.1"/>
<rect x="263.4" y="1.4" width="4.2" height="7.4" fill="url(#grn)" stroke="#008000" stroke-width="0.9"/>
<g stroke="#4d4d4d" stroke-width="1.1" fill="#4d4d4d">
<line x1="287.4" y1="1.5" x2="287.4" y2="14.6"/>
<line x1="284.8" y1="12.5" x2="298" y2="12.5"/>
<polygon points="287.4,0.8 285.9,3.2 288.9,3.2" stroke="none"/>
<polygon points="298.8,12.5 296.6,11 296.6,14" stroke="none"/>
</g>
<path d="M286.2,9.8 C288.6,8.2 290,4.2 292.4,4.3 C294.4,4.4 295.6,7.6 297.6,8.3" stroke="#008000" stroke-width="1.1" fill="none"/>
<g stroke="#4d4d4d" stroke-width="1.1" fill="#4d4d4d">
<line x1="411.6" y1="1.5" x2="411.6" y2="14.6"/>
<line x1="409" y1="12.5" x2="422.2" y2="12.5"/>
<polygon points="411.6,0.8 410.1,3.2 413.1,3.2" stroke="none"/>
<polygon points="423,12.5 420.8,11 420.8,14" stroke="none"/>
</g>
<polygon points="416.2,3.2 419.8,6.6 416.2,10" fill="#40e040" stroke="#008800" stroke-width="0.9"/>
<g stroke="#4d4d4d" stroke-width="1.1" fill="#4d4d4d">
<line x1="439.5" y1="1.5" x2="439.5" y2="14.6"/>
<line x1="436.9" y1="12.5" x2="450.1" y2="12.5"/>
<polygon points="439.5,0.8 438,3.2 441,3.2" stroke="none"/>
<polygon points="450.9,12.5 448.7,11 448.7,14" stroke="none"/>
</g>
<line x1="445.5" y1="1" x2="445.5" y2="10.6" stroke="#1060b0" stroke-width="1.2"/>
<path d="M446.6,6.4 H451 M446.6,6.4 L448.8,4.4 M446.6,6.4 L448.8,8.4" stroke="#d04000" stroke-width="1.1" fill="none"/>
<line x1="326.5" y1="9.4" x2="331.5" y2="13.6" stroke="#a88408" stroke-width="3.4" stroke-linecap="butt"/>
<line x1="326.8" y1="9.5" x2="331.2" y2="13.3" stroke="#f0d040" stroke-width="1.8"/>
<circle cx="322.9" cy="5" r="5.3" fill="#d8ecfa" stroke="#2a6cc0" stroke-width="1.2"/>
<line x1="319.9" y1="5" x2="325.9" y2="5" stroke="#3478c0" stroke-width="1.6"/>
<line x1="322.9" y1="2" x2="322.9" y2="8" stroke="#3478c0" stroke-width="1.6"/>
<line x1="354.6" y1="9.4" x2="359.6" y2="13.6" stroke="#a88408" stroke-width="3.4" stroke-linecap="butt"/>
<line x1="354.9" y1="9.5" x2="359.3" y2="13.3" stroke="#f0d040" stroke-width="1.8"/>
<circle cx="351" cy="5" r="5.3" fill="#d8ecfa" stroke="#2a6cc0" stroke-width="1.2"/>
<line x1="348" y1="5" x2="354" y2="5" stroke="#3478c0" stroke-width="1.6"/>
<g shape-rendering="crispEdges">
<rect x="373" y="-1" width="8" height="8" fill="#3c9c14"/><rect x="381" y="-1" width="8" height="8" fill="#2454d4"/>
<rect x="373" y="7" width="8" height="8" fill="#2454d4"/><rect x="381" y="7" width="8" height="8" fill="#3c9c14"/>
<rect x="374.5" y="2" width="5.5" height="4" fill="#f4f8ff"/>
<rect x="375.5" y="3.5" width="3.5" height="1" fill="#8cd070"/>
<rect x="382.5" y="2" width="5.5" height="4" fill="#f4f8ff"/>
<rect x="383.5" y="3.5" width="3.5" height="1" fill="#7c9cf0"/>
<rect x="374.5" y="10" width="5.5" height="4" fill="#f4f8ff"/>
<rect x="375.5" y="11.5" width="3.5" height="1" fill="#7c9cf0"/>
<rect x="382.5" y="10" width="5.5" height="4" fill="#f4f8ff"/>
<rect x="383.5" y="11.5" width="3.5" height="1" fill="#8cd070"/>
</g>
<path d="M470.4,-1 V12.3 H481.8 V2.4 L479,-1 Z" fill="#fafafa" stroke="#8c8c8c" stroke-width="0.9"/>
<path d="M478.2,5.6 H481.8 V9 H485.6 V12.6 H481.8 V16.4 H478.2 V12.6 H474.4 V9 H478.2 Z" fill="#30d030" stroke="#0c8c0c" stroke-width="0.9"/>
<polygon points="492,6 497.4,6 494.7,9" fill="#000"/>
<polygon points="531,6 536.4,6 533.7,9" fill="#000"/>
<polygon points="570,6 575.4,6 572.7,9" fill="#000"/>
<polygon points="876,6 881.4,6 878.7,9" fill="#000"/>
<circle cx="515.9" cy="6.6" r="6.7" fill="#e6e8f0" stroke="#1868d4" stroke-width="2.6"/>
<path d="M515.9,6.8 V3 M515.9,6.8 H518.6" stroke="#101010" stroke-width="1.1" fill="none"/>
<rect x="547.5" y="-1" width="15" height="14.6" fill="#fff" stroke="#3a78c8" stroke-width="1"/>
<rect x="547.5" y="-1" width="15" height="3.4" fill="#4a8cdc"/>
<line x1="547.5" y1="8.4" x2="562.5" y2="8.4" stroke="#3a78c8" stroke-width="1"/>
<path d="M549.4,6.4 L551.6,6.2 L553.6,4.8 L555.6,5.6 L557.6,5 L560.4,4.4" stroke="#a82010" stroke-width="1.1" fill="none"/>
<path d="M550.4,11.6 L552.6,11 L554.4,11.8 L556.6,9.8 L558.4,10.2 L560.4,11.8" stroke="#108a10" stroke-width="1.1" fill="none"/>
<polygon points="599,-1 599,11.2 601.6,8.8 604.2,14 605.8,13.2 603.2,8.2 606.8,7.6" fill="#484848"/>
<g shape-rendering="crispEdges"><rect x="624" y="7" width="15" height="1" fill="#4d4d4d"/><rect x="631" y="0" width="1" height="15" fill="#4d4d4d"/><rect x="631" y="7" width="1" height="1" fill="#f0f0f0"/></g>
<g shape-rendering="crispEdges"><rect x="665" y="1" width="1" height="13" fill="#4d4d4d"/><rect x="688" y="7" width="12" height="1" fill="#4d4d4d"/></g>
<line x1="715.6" y1="14" x2="728" y2="1.9" stroke="#4d4d4d" stroke-width="1.1"/>
<g stroke="#4d4d4d" stroke-width="1" fill="none">
<line x1="742.6" y1="8.4" x2="755.4" y2="0.6"/><line x1="743.8" y1="13" x2="756" y2="4.8"/>
<line x1="745.6" y1="6.4" x2="745.6" y2="12"/><line x1="748.6" y1="4.4" x2="748.6" y2="10"/><line x1="751.6" y1="2.4" x2="751.6" y2="8"/><line x1="754.4" y1="1" x2="754.4" y2="6"/>
</g>
<text x="752.4" y="16" style="font-size:6.4px;font-weight:bold;fill:#303030">E</text>
<g stroke="#4d4d4d" stroke-width="1" stroke-dasharray="1 1" shape-rendering="crispEdges">
<line x1="771" y1="0.5" x2="784" y2="0.5"/>
<line x1="771" y1="3.5" x2="784" y2="3.5"/>
<line x1="771" y1="5.5" x2="784" y2="5.5"/>
<line x1="771" y1="7.5" x2="784" y2="7.5"/>
<line x1="771" y1="11.5" x2="779" y2="11.5"/>
</g>
<text x="780.4" y="16" style="font-size:6.4px;font-weight:bold;fill:#303030">F</text>
<text x="801.4" y="12" style="font-size:12.4px;fill:#5a5a5a;font-weight:bold" textLength="8.8" lengthAdjust="spacingAndGlyphs">A</text>
<rect x="828.5" y="0.5" width="11" height="13" fill="none" stroke="#505050" stroke-width="1" stroke-dasharray="1 1" shape-rendering="crispEdges"/>
<text x="829.8" y="11.6" style="font-size:11px;fill:#505050;font-weight:bold" textLength="8.4" lengthAdjust="spacingAndGlyphs">T</text>
<polygon points="858.6,0.6 862,3.6 858.6,4.8 855.4,3.6" fill="#484848"/>
<polygon points="865.4,8.2 868.8,9.8 865.4,13.6 862.2,9.8" fill="#484848"/>
<path d="M858.2,6.4 L860.6,9.2 L865,4.6" stroke="#484848" stroke-width="1.3" fill="none"/>
<text transform="translate(902.4,11) scale(1,1)" class="tf" textLength="13.2" lengthAdjust="spacingAndGlyphs">M1</text>
<text transform="translate(930.6,11) scale(1,1)" class="tf" textLength="13" lengthAdjust="spacingAndGlyphs">M5</text>
<text transform="translate(956.4,11) scale(1,1)" class="tf" textLength="18" lengthAdjust="spacingAndGlyphs">M15</text>
<text transform="translate(984.2,11) scale(1,1)" class="tf" textLength="18.8" lengthAdjust="spacingAndGlyphs">M30</text>
<text transform="translate(1015.6,11) scale(1,1)" class="tf" textLength="12" lengthAdjust="spacingAndGlyphs">H1</text>
<text transform="translate(1042.4,11) scale(1,1)" class="tf" textLength="12.8" lengthAdjust="spacingAndGlyphs">H4</text>
<text transform="translate(1071.4,11) scale(1,1)" class="tf" textLength="12.2" lengthAdjust="spacingAndGlyphs">D1</text>
<text transform="translate(1098.4,11) scale(1,1)" class="tf" textLength="15" lengthAdjust="spacingAndGlyphs">W1</text>
<text transform="translate(1125.2,11) scale(1,1)" class="tf" textLength="15.6" lengthAdjust="spacingAndGlyphs">MN</text>
<line x1="1615.6" y1="7.8" x2="1611.2" y2="11.8" stroke="#1c50c4" stroke-width="2.6"/>
<circle cx="1618.6" cy="4.3" r="3.7" fill="#f4f6ff" stroke="#2a5cd0" stroke-width="1.3"/>
<path d="M1636,9 C1636,5.6 1639,4.2 1641.6,4.2 L1647,4.2 L1647,12.6 L1641,12.8 L1638.4,15.4 L1638.6,12.6 C1636.8,12.2 1636,10.8 1636,9 Z" fill="#e2e4ea" stroke="#b4b4b8" stroke-width="0.8"/>
<circle cx="1649.4" cy="4.4" r="8.2" fill="url(#redb)"/>
<text x="1645.6" y="9" style="font-family:'Liberation Serif',serif;font-size:12.5px;font-weight:bold;fill:#fff" textLength="6" lengthAdjust="spacingAndGlyphs">1</text>
</g>
</svg>
</body></html>
